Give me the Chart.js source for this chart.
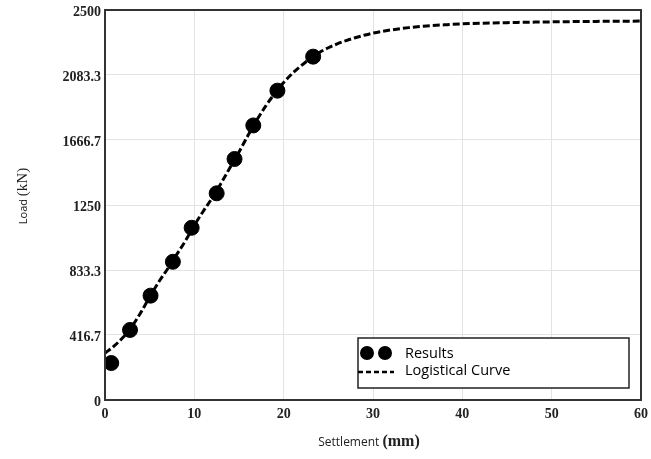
<!DOCTYPE html>
<html>
<head>
<meta charset="utf-8">
<script src="https://cdn.jsdelivr.net/npm/chart.js@4/dist/chart.umd.min.js"></script>
<style>
  body { margin: 0; background: #fff; }
  canvas { display: block; }
</style>
</head>
<body>
<canvas id="chart" width="651" height="459"></canvas>
<script>
// measured points (Results)
var settlement = [0.7, 2.8, 5.1, 7.6, 9.7, 12.5, 14.5, 16.6, 19.3, 23.3]
var load = [237, 449, 669, 886, 1104, 1325, 1545, 1760, 1983, 2201]

// logistical curve
var curveSettlement = [0, 1, 2, 3, 4, 5, 6, 7, 8, 9, 10, 11, 12, 13, 14, 15, 16, 17, 18, 19, 20,
  21, 22, 23, 24, 25, 26, 27, 28, 29, 30, 32, 34, 36, 38, 40, 45, 50, 55, 60]
var curveLoad = [300, 345, 400, 470, 560, 660, 755, 840, 930, 1020, 1120, 1210, 1295, 1390, 1490,
  1590, 1695, 1795, 1885, 1965, 2035, 2095, 2145, 2190, 2228, 2258, 2283, 2304, 2322, 2338, 2352,
  2372, 2387, 2398, 2405, 2411, 2419, 2424, 2427, 2429]

var yTicks = ["0", "416.7", "833.3", "1250", "1666.7", "2083.3", "2500"]
var legendLabels = ["Results", "Logistical Curve"]

function toXY(xs, ys) {
  return xs.map(function(x, i) { return {x: x, y: ys[i]} })
}

// frame, axis titles and the boxed legend
var extras = {
  id: "extras",
  afterDraw: function(chart) {
    var ctx = chart.ctx
    var a = chart.chartArea
    ctx.save()
    ctx.strokeStyle = "#333"
    ctx.lineWidth = 2
    ctx.strokeRect(a.left, a.top, a.right - a.left, a.bottom - a.top)

    // x title: "Settlement (mm)"
    ctx.fillStyle = "#222"
    ctx.textBaseline = "alphabetic"
    ctx.textAlign = "left"
    ctx.font = "12px 'Open Sans'"
    var w1 = ctx.measureText("Settlement ").width
    ctx.font = "bold 16px 'Liberation Serif'"
    var w2 = ctx.measureText("(mm)").width
    var x0 = 369 - (w1 + w2) / 2
    ctx.font = "12px 'Open Sans'"
    ctx.fillText("Settlement ", x0, 446)
    ctx.font = "bold 16px 'Liberation Serif'"
    ctx.fillText("(mm)", x0 + w1, 446)

    // y title: "Load (kN)"
    ctx.translate(27, 196)
    ctx.rotate(-Math.PI / 2)
    ctx.font = "11px 'Open Sans'"
    var w3 = ctx.measureText("Load ").width
    ctx.font = "15px 'Liberation Serif'"
    var w4 = ctx.measureText("(kN)").width
    var y0 = -(w3 + w4) / 2
    ctx.font = "11px 'Open Sans'"
    ctx.fillText("Load ", y0, 0)
    ctx.font = "15px 'Liberation Serif'"
    ctx.fillText("(kN)", y0 + w3, 0)
    ctx.setTransform(1, 0, 0, 1, 0, 0)

    // legend box
    ctx.fillStyle = "#fff"
    ctx.fillRect(358, 338, 271, 50)
    ctx.strokeStyle = "#222"
    ctx.lineWidth = 1.5
    ctx.strokeRect(358, 338, 271, 50)
    ctx.fillStyle = "#000"
    ctx.beginPath(); ctx.arc(367, 353, 7, 0, Math.PI * 2); ctx.fill()
    ctx.beginPath(); ctx.arc(385, 353, 7, 0, Math.PI * 2); ctx.fill()
    ctx.strokeStyle = "#000"
    ctx.lineWidth = 2.5
    ctx.setLineDash([5, 3])
    ctx.beginPath(); ctx.moveTo(358, 372); ctx.lineTo(394, 372); ctx.stroke()
    ctx.setLineDash([])
    ctx.fillStyle = "#000"
    ctx.font = "14.5px 'Open Sans'"
    ctx.textBaseline = "middle"
    ctx.fillText(legendLabels[0], 405, 354)
    ctx.fillText(legendLabels[1], 405, 371)
    ctx.restore()
  }
}

new Chart(document.getElementById("chart"), {
  type: "scatter",
  data: {
    datasets: [
      {
        label: legendLabels[0],
        data: toXY(settlement, load),
        backgroundColor: "#000",
        borderColor: "#000",
        pointRadius: 7.5,
        pointHoverRadius: 7.5,
        order: 0,
      },
      {
        type: "line",
        label: legendLabels[1],
        data: toXY(curveSettlement, curveLoad),
        borderColor: "#000",
        borderWidth: 3,
        borderDash: [7, 3],
        pointRadius: 0,
        fill: false,
        cubicInterpolationMode: "monotone",
        order: 1,
      },
    ],
  },
  options: {
    responsive: false,
    animation: false,
    layout: { padding: { top: 10, right: 10, left: 0, bottom: 0 } },
    plugins: { legend: { display: false }, tooltip: { enabled: false } },
    scales: {
      x: {
        type: "linear",
        min: 0,
        max: 60,
        afterFit: function(scale) {
          scale.height = 59
          scale.paddingLeft = 0
          scale.paddingRight = 0
        },
        grid: { color: "#e3e3e3", drawTicks: false },
        border: { display: false },
        ticks: {
          stepSize: 10,
          padding: 6,
          color: "#222",
          font: { family: "'Liberation Serif'", size: 14, weight: "bold" },
        },
      },
      y: {
        type: "linear",
        min: 0,
        max: 2500,
        afterFit: function(scale) {
          scale.width = 105
          scale.paddingTop = 0
          scale.paddingBottom = 0
        },
        grid: { color: "#e3e3e3", drawTicks: false },
        border: { display: false },
        ticks: {
          count: yTicks.length,
          padding: 4,
          labelOffset: 2,
          color: "#222",
          font: { family: "'Liberation Serif'", size: 14, weight: "bold" },
          callback: function(v, i) { return yTicks[i] },
        },
      },
    },
  },
  plugins: [extras],
})
</script>
</body>
</html>
